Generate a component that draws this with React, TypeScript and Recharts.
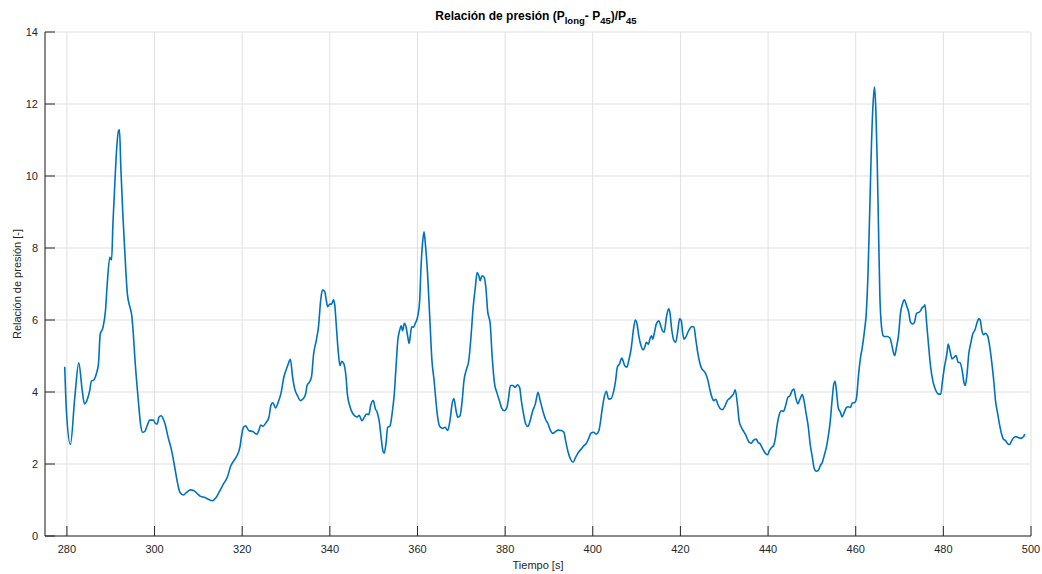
import React from 'react';
import { LineChart, Line, XAxis, YAxis, CartesianGrid } from 'recharts';

// Tiempo [s]
const tiempo = [
  279.5, 279.9, 280.8, 281.8, 282.7, 283.5, 284.0, 284.8, 285.2, 285.6, 286.1, 286.7, 287.2, 287.6, 288.2, 288.8,
  289.2, 289.8, 290.0, 290.2, 290.5, 291.0, 291.4, 291.8, 292.0, 292.3, 292.8, 293.4, 293.8, 294.4, 294.8, 295.1,
  295.6, 296.3, 296.8, 297.3, 297.8, 298.3, 298.9, 299.7, 300.2, 300.6, 301.0, 301.5, 302.0, 302.4, 303.1, 303.9,
  304.6, 305.3, 305.8, 306.6, 307.3, 308.2, 309.0, 309.8, 310.5, 311.5, 312.3, 313.2, 314.0, 314.7, 315.7, 316.6,
  317.4, 318.2, 318.8, 319.5, 319.8, 320.3, 320.8, 321.5, 322.4, 323.4, 323.8, 324.2, 324.7, 325.5, 326.1, 326.6,
  327.0, 327.6, 328.2, 328.9, 329.5, 330.1, 330.5, 331.0, 331.5, 332.0, 332.6, 333.3, 333.9, 334.5, 334.8, 335.3,
  335.8, 336.3, 336.9, 337.4, 337.9, 338.3, 338.8, 339.2, 339.5, 340.0, 340.4, 340.8, 341.1, 341.5, 341.9, 342.3,
  342.7, 343.2, 343.7, 344.0, 344.6, 345.2, 345.7, 346.3, 346.7, 347.3, 347.9, 348.4, 348.9, 349.3, 349.9, 350.4,
  350.8, 351.3, 351.7, 352.1, 352.4, 352.8, 353.2, 353.7, 354.2, 354.7, 355.1, 355.5, 355.9, 356.3, 356.6, 357.0,
  357.4, 357.8, 358.1, 358.4, 358.7, 359.1, 359.5, 360.0, 360.5, 360.8, 361.2, 361.5, 361.8, 362.3, 362.8, 363.3,
  363.8, 364.2, 364.6, 365.1, 365.7, 366.3, 366.9, 367.4, 367.9, 368.3, 368.8, 369.2, 369.7, 370.2, 370.6, 371.2,
  371.7, 372.2, 372.7, 373.2, 373.6, 374.0, 374.3, 374.7, 375.2, 375.6, 376.0, 376.6, 377.0, 377.6, 378.1, 378.7,
  379.3, 379.8, 380.4, 380.8, 381.2, 381.8, 382.3, 382.8, 383.3, 383.7, 384.2, 384.7, 385.2, 385.7, 386.3, 386.9,
  387.5, 388.0, 388.6, 389.2, 389.8, 390.3, 390.9, 391.5, 392.1, 392.8, 393.4, 393.8, 394.4, 394.9, 395.5, 396.1,
  396.7, 397.4, 398.0, 398.5, 399.1, 399.6, 400.2, 400.8, 401.4, 402.1, 402.6, 403.1, 403.6, 404.1, 404.7, 405.2,
  405.6, 406.1, 406.6, 406.9, 407.3, 407.8, 408.2, 408.8, 409.2, 409.7, 410.1, 410.5, 411.0, 411.5, 411.9, 412.2,
  412.7, 413.1, 413.4, 413.7, 414.0, 414.5, 415.1, 415.5, 415.9, 416.3, 416.8, 417.3, 417.6, 418.0, 418.5, 418.9,
  419.4, 419.8, 420.2, 420.5, 420.8, 421.2, 421.7, 422.1, 422.6, 423.1, 423.5, 424.0, 424.4, 424.9, 425.3, 425.8,
  426.3, 426.7, 427.2, 427.6, 428.1, 428.5, 429.0, 429.6, 430.2, 430.7, 431.3, 431.8, 432.1, 432.5, 433.0, 433.4,
  433.9, 434.4, 434.8, 435.3, 435.7, 436.2, 436.6, 437.3, 437.7, 438.2, 438.6, 439.1, 439.5, 439.9, 440.3, 440.8,
  441.2, 441.7, 442.1, 442.6, 443.0, 443.5, 444.0, 444.5, 445.0, 445.5, 445.9, 446.3, 446.8, 447.3, 447.8, 448.2,
  448.7, 449.2, 449.6, 450.1, 450.5, 451.0, 451.5, 451.9, 452.4, 452.8, 453.3, 453.7, 454.2, 454.6, 455.0, 455.3,
  455.6, 456.0, 456.5, 456.9, 457.4, 457.9, 458.3, 458.8, 459.2, 459.8, 460.2, 460.6, 461.1, 461.5, 462.0, 462.4,
  462.8, 463.2, 463.6, 464.0, 464.3, 464.6, 464.9, 465.2, 465.5, 465.9, 466.3, 466.7, 467.2, 467.8, 468.2, 468.5,
  468.9, 469.3, 469.8, 470.2, 470.7, 471.1, 471.6, 472.1, 472.5, 473.0, 473.4, 473.9, 474.4, 474.8, 475.2, 475.5,
  475.8, 476.2, 476.6, 477.1, 477.6, 478.0, 478.5, 478.9, 479.4, 479.8, 480.3, 480.8, 481.1, 481.5, 482.0, 482.4,
  482.9, 483.4, 483.8, 484.3, 484.7, 485.0, 485.4, 485.8, 486.3, 486.7, 487.2, 487.6, 488.1, 488.4, 488.8, 489.2,
  489.6, 490.1, 490.5, 491.0, 491.5, 491.9, 492.4, 492.8, 493.3, 493.7, 494.2, 494.7, 495.1, 495.6, 496.0, 496.5,
  497.0, 497.4, 497.9, 498.3, 498.6,
];

// Relación de presión [-]
const relacion = [
  4.70, 3.45, 2.54, 3.85, 4.81, 4.04, 3.67, 3.85, 4.04, 4.31, 4.33, 4.50, 4.78, 5.61, 5.78, 6.26,
  7.00, 7.74, 7.69, 7.67, 8.67, 9.96, 10.84, 11.26, 11.28, 10.24, 8.85, 7.46, 6.72, 6.35, 6.12, 5.70,
  4.78, 3.76, 3.11, 2.88, 2.91, 3.06, 3.22, 3.22, 3.13, 3.11, 3.30, 3.34, 3.25, 3.11, 2.74, 2.37,
  1.91, 1.44, 1.21, 1.14, 1.21, 1.28, 1.26, 1.17, 1.10, 1.07, 1.02, 0.98, 1.06, 1.21, 1.44, 1.63,
  1.95, 2.11, 2.23, 2.48, 2.74, 3.02, 3.06, 2.93, 2.90, 2.83, 2.93, 3.08, 3.05, 3.16, 3.30, 3.65,
  3.70, 3.56, 3.71, 3.99, 4.41, 4.64, 4.78, 4.91, 4.41, 4.08, 3.90, 3.76, 3.81, 3.96, 4.18, 4.27,
  4.41, 5.06, 5.43, 5.80, 6.54, 6.83, 6.80, 6.54, 6.37, 6.44, 6.44, 6.56, 6.44, 5.80, 5.15, 4.73,
  4.85, 4.78, 4.41, 3.94, 3.59, 3.41, 3.34, 3.31, 3.35, 3.20, 3.31, 3.39, 3.37, 3.62, 3.76, 3.53,
  3.44, 3.16, 2.74, 2.37, 2.30, 2.56, 3.02, 3.05, 3.39, 3.94, 4.69, 5.43, 5.70, 5.84, 5.70, 5.91,
  5.80, 5.52, 5.35, 5.61, 5.81, 5.80, 5.91, 6.07, 6.54, 7.46, 8.20, 8.45, 8.11, 7.28, 6.07, 4.87,
  4.31, 3.76, 3.30, 3.04, 2.99, 3.02, 2.93, 3.20, 3.67, 3.82, 3.48, 3.30, 3.34, 3.76, 4.31, 4.64,
  4.87, 5.52, 6.35, 6.91, 7.32, 7.23, 7.09, 7.23, 7.19, 6.91, 6.26, 5.89, 5.06, 4.22, 3.99, 3.76,
  3.53, 3.48, 3.57, 3.85, 4.18, 4.18, 4.13, 4.20, 4.13, 3.76, 3.39, 3.11, 3.04, 3.20, 3.48, 3.67,
  3.99, 3.76, 3.48, 3.25, 3.11, 2.94, 2.85, 2.90, 2.94, 2.93, 2.88, 2.65, 2.32, 2.14, 2.05, 2.19,
  2.32, 2.42, 2.51, 2.57, 2.72, 2.86, 2.88, 2.83, 2.93, 3.48, 3.85, 4.02, 3.81, 3.81, 3.99, 4.31,
  4.69, 4.78, 4.94, 4.87, 4.73, 4.69, 4.87, 5.24, 5.66, 6.00, 5.89, 5.56, 5.29, 5.17, 5.26, 5.38,
  5.33, 5.50, 5.56, 5.47, 5.61, 5.89, 5.98, 5.84, 5.70, 5.66, 6.07, 6.31, 6.21, 5.75, 5.43, 5.38,
  5.70, 6.03, 5.98, 5.66, 5.47, 5.52, 5.66, 5.75, 5.82, 5.80, 5.47, 5.06, 4.82, 4.64, 4.59, 4.50,
  4.31, 4.08, 3.85, 3.76, 3.80, 3.67, 3.55, 3.51, 3.62, 3.76, 3.83, 3.90, 3.94, 4.06, 3.67, 3.20,
  3.02, 2.91, 2.83, 2.69, 2.60, 2.58, 2.65, 2.69, 2.60, 2.56, 2.46, 2.35, 2.28, 2.26, 2.37, 2.46,
  2.50, 2.74, 3.11, 3.39, 3.48, 3.46, 3.62, 3.85, 3.90, 4.04, 4.08, 3.85, 3.67, 3.81, 3.93, 3.76,
  3.39, 3.02, 2.56, 2.19, 1.89, 1.80, 1.83, 1.95, 2.05, 2.23, 2.46, 2.74, 3.20, 3.76, 4.22, 4.30,
  4.04, 3.57, 3.44, 3.31, 3.44, 3.57, 3.59, 3.57, 3.69, 3.71, 3.85, 4.41, 4.96, 5.24, 5.70, 6.17,
  7.28, 9.04, 10.89, 12.09, 12.48, 11.81, 10.43, 8.57, 6.72, 5.80, 5.56, 5.54, 5.54, 5.50, 5.33, 5.15,
  5.01, 5.24, 5.61, 6.17, 6.46, 6.56, 6.40, 6.21, 5.94, 5.89, 5.94, 6.19, 6.21, 6.26, 6.35, 6.37,
  6.42, 5.89, 5.33, 4.69, 4.31, 4.13, 3.99, 3.94, 3.94, 4.31, 4.73, 5.06, 5.33, 5.15, 4.92, 4.96,
  5.01, 4.82, 4.82, 4.59, 4.27, 4.18, 4.50, 5.06, 5.38, 5.61, 5.72, 5.89, 6.03, 6.00, 5.70, 5.59,
  5.63, 5.56, 5.33, 4.87, 4.31, 3.76, 3.39, 3.11, 2.83, 2.69, 2.65, 2.56, 2.54, 2.65, 2.72, 2.76,
  2.74, 2.72, 2.72, 2.76, 2.83,
];

const xTicks = [280, 300, 320, 340, 360, 380, 400, 420, 440, 460, 480, 500];
const yTicks = [0, 2, 4, 6, 8, 10, 12, 14];

const data = tiempo.map((t, i) => ({ t, r: relacion[i] }));

const FONT = '"Liberation Sans", Arial, Helvetica, sans-serif';
const AXIS = '#262626';
const GRID = '#dfdfdf';
const LINE = '#0072BD';

// Inward tick marks with the label outside the axis
const XTick = (props: any) => {
  const { x, y, payload } = props;
  return (
    <g>
      <line x1={x} y1={y} x2={x} y2={y - 10} stroke={AXIS} strokeWidth={1} />
      <text x={x} y={y + 17} textAnchor="middle" fill={AXIS} fontSize={11} fontFamily={FONT}>
        {payload.value}
      </text>
    </g>
  );
};

const YTick = (props: any) => {
  const { x, y, payload } = props;
  return (
    <g>
      <line x1={x} y1={y} x2={x + 10} y2={y} stroke={AXIS} strokeWidth={1} />
      <text x={x - 7} y={y + 4} textAnchor="end" fill={AXIS} fontSize={11} fontFamily={FONT}>
        {payload.value}
      </text>
    </g>
  );
};

const subStyle: React.CSSProperties = { fontSize: 9.5, verticalAlign: '-4px' };

export default function App() {
  return (
    <div style={{ position: 'absolute', left: 0, top: 0, width: 1042, height: 574, background: '#fff' }}>
      <div
        style={{
          position: 'absolute',
          left: 0,
          width: 1072,
          top: 9,
          textAlign: 'center',
          fontFamily: FONT,
          fontWeight: 'bold',
          fontSize: 12,
          color: '#000',
          lineHeight: '14px',
          whiteSpace: 'nowrap',
        }}
      >
        Relación de presión (P
        <sub style={subStyle}>long</sub>
        - P
        <sub style={subStyle}>45</sub>
        )/P
        <sub style={subStyle}>45</sub>
      </div>
      <LineChart
        width={1042}
        height={574}
        data={data}
        margin={{ top: 32, right: 11, bottom: 0, left: 0 }}
      >
        <CartesianGrid stroke={GRID} strokeWidth={1} />
        <XAxis
          dataKey="t"
          type="number"
          domain={[275, 500]}
          ticks={xTicks}
          allowDataOverflow
          height={38}
          tickSize={0}
          tickMargin={0}
          tickLine={false}
          axisLine={{ stroke: AXIS, strokeWidth: 1 }}
          tick={<XTick />}
          interval={0}
          label={{
            value: 'Tiempo [s]',
            position: 'insideBottom',
            offset: 5,
            fill: AXIS,
            fontSize: 11,
            fontFamily: FONT,
          }}
        />
        <YAxis
          type="number"
          domain={[0, 14]}
          ticks={yTicks}
          allowDataOverflow
          width={45}
          tickSize={0}
          tickMargin={0}
          tickLine={false}
          axisLine={{ stroke: AXIS, strokeWidth: 1 }}
          tick={<YTick />}
          interval={0}
          label={{
            value: 'Relación de presión [-]',
            angle: -90,
            position: 'insideLeft',
            offset: 17,
            fill: AXIS,
            fontSize: 11,
            fontFamily: FONT,
            style: { textAnchor: 'middle' },
          }}
        />
        <Line
          type="monotone"
          dataKey="r"
          stroke={LINE}
          strokeWidth={1.6}
          dot={false}
          activeDot={false}
          isAnimationActive={false}
        />
      </LineChart>
    </div>
  );
}
